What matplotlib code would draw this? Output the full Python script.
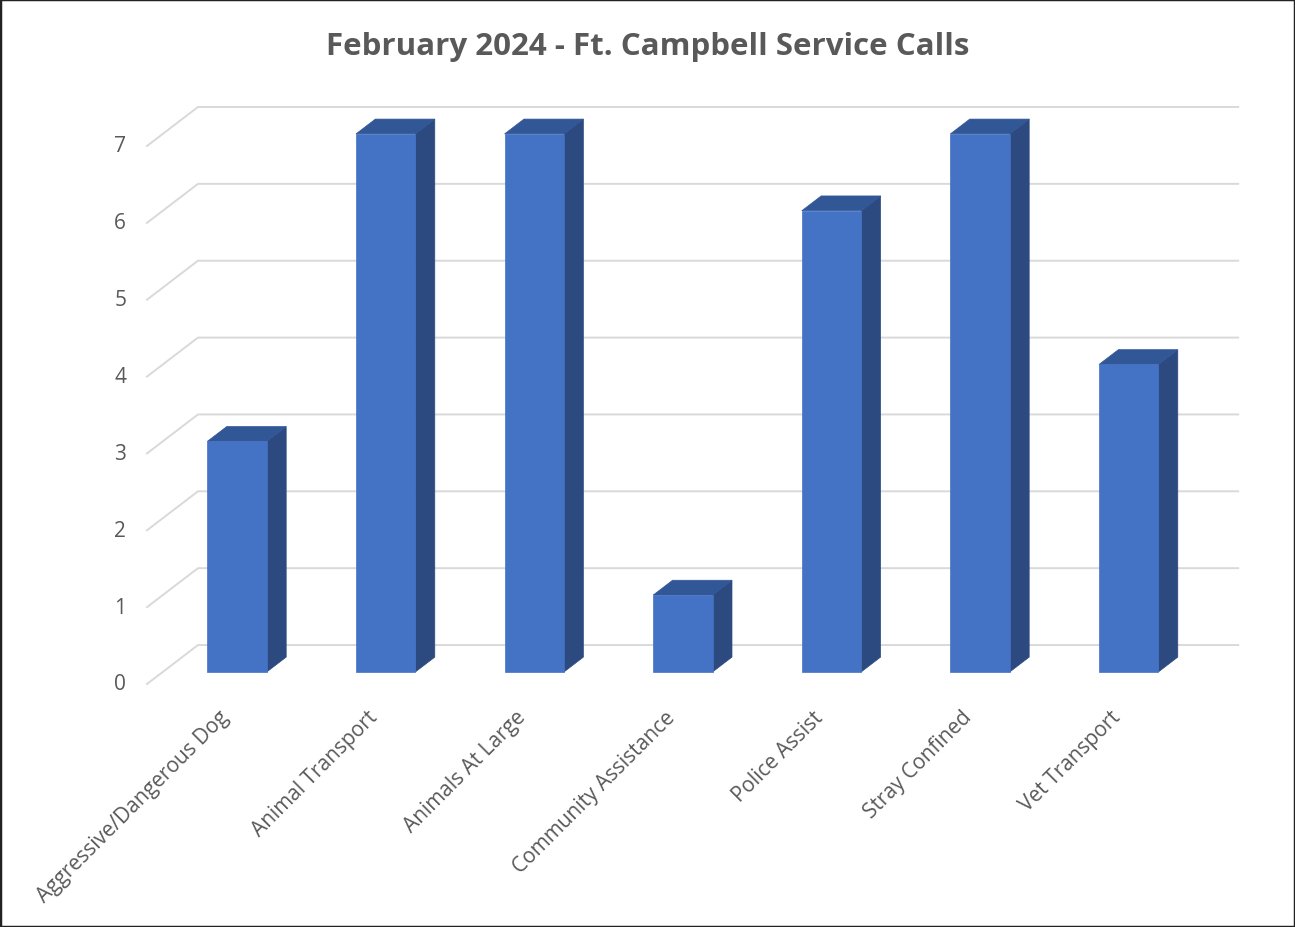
import numpy as np
import matplotlib.pyplot as plt
from matplotlib.patches import Polygon, Rectangle

# data
categories = ['Aggressive/Dangerous Dog', 'Animal Transport', 'Animals At Large',
              'Community Assistance', 'Police Assist', 'Stray Confined', 'Vet Transport']
calls = [3, 7, 7, 1, 6, 7, 4]
yticks = [0, 1, 2, 3, 4, 5, 6, 7]

plt.rcParams['font.family'] = ['Open Sans', 'DejaVu Sans']
TXT = '#595959'

# fake 3d: depth vector (in category / value units)
DX, DY = 0.343, 0.507
d0, d1 = 0.31, 0.69   # bar front / back depth
w = 0.2               # half bar width

def proj(x, y, d):
    return (x + d*DX, y + d*DY)

W, H = 1295, 928
fig = plt.figure(figsize=(W/100, H/100), dpi=100)
# axes so that x=-0.5 -> 147px, y=0 -> 685px (front plane)
ax = fig.add_axes([147/W, (H-685)/H, (1238-147)/W, (685-108)/H])
ax.set_xlim(-0.5, -0.5 + (1238-147)/148.6)
ax.set_ylim(0, 7 + DY)
ax.axis('off')

n = len(categories)
# gridlines: left wall diagonal + back wall
for v in yticks:
    pts = [proj(-0.5, v, 0), proj(-0.5, v, 1), proj(n-0.5, v, 1)]
    ax.plot([p[0] for p in pts], [p[1] for p in pts], color='#D9D9D9', lw=1.4,
            clip_on=False, zorder=1)
    ax.text(-0.5 - 0.14, v, str(v), ha='right', va='center', fontsize=15,
            color=TXT)

front_c, side_c, top_c = '#4472C4', '#2C4A80', '#325797'
for i, v in enumerate(calls):
    front = [proj(i-w, 0, d0), proj(i+w, 0, d0), proj(i+w, v, d0), proj(i-w, v, d0)]
    side = [proj(i+w, 0, d0), proj(i+w, 0, d1), proj(i+w, v, d1), proj(i+w, v, d0)]
    top = [proj(i-w, v, d0), proj(i+w, v, d0), proj(i+w, v, d1), proj(i-w, v, d1)]
    for poly, c in [(side, side_c), (top, top_c), (front, front_c)]:
        ax.add_patch(Polygon(poly, closed=True, facecolor=c, edgecolor=c,
                             lw=0.5, clip_on=False, zorder=3))
    ax.text(i + 0.03, -0.39, categories[i], rotation=45, rotation_mode='anchor',
            ha='right', va='center', fontsize=15, color=TXT)

fig.text(0.5, 1 - 47/H, 'February 2024 - Ft. Campbell Service Calls',
         ha='center', va='center', fontsize=22.5, fontweight='bold', color=TXT)

fig.patches.append(Rectangle((0, 0), 1, 1, transform=fig.transFigure, fill=False,
                             edgecolor='#222222', lw=2.5))

fig.savefig('out.png', dpi=100)
